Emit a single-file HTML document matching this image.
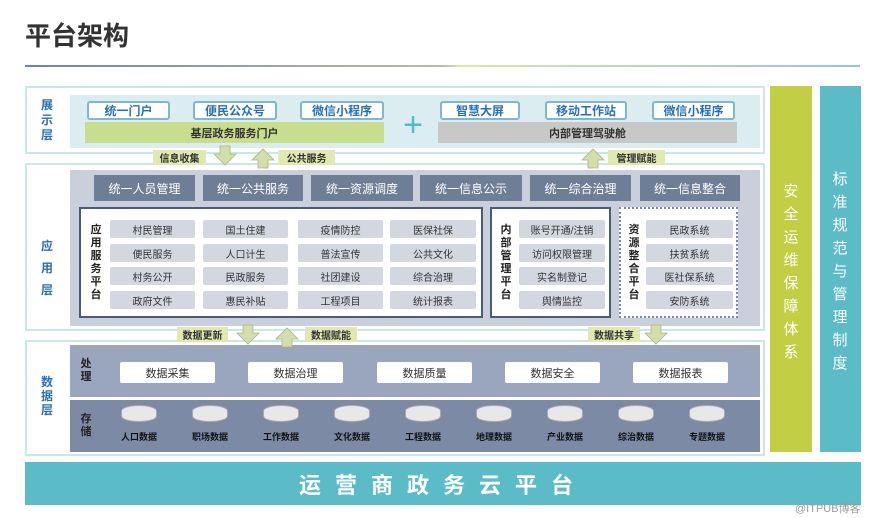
<!DOCTYPE html>
<html><head><meta charset="utf-8"><style>
*{margin:0;padding:0;box-sizing:border-box}
body{width:889px;height:518px;background:#fff;position:relative;overflow:hidden;font-family:"Liberation Sans","Noto Sans CJK SC",sans-serif}
div{position:absolute}
.c{display:flex;align-items:center;justify-content:center;text-align:center;white-space:nowrap}
.btn{background:#fff;border:2px solid #7fb7cf;border-radius:3px;color:#2a6fb5;font-weight:bold;font-size:12px;height:19px;top:101px}
.lab{color:#2a6fb5;font-weight:bold;font-size:12px;line-height:15px;width:14px;text-align:center}
.hd{background:#6e7e97;color:#fff;font-size:12px;top:175px;height:26px}
.it{background:#d3d8e0;color:#333;font-size:10px;height:18px;border-radius:2px}
.vl{font-weight:bold;font-size:11px;line-height:13px;width:12px;text-align:center;color:#222}
.tag{background:#dfe9b0;color:#333;font-size:10px;height:15px;font-weight:bold}
.pb{background:#fff;color:#333;font-size:11px;top:362px;height:21px;width:95px;border-radius:2px}
.cyl{width:36px;height:17px;top:405px;background:#e8e8e8;border:1px solid #aaa;border-radius:50%/35%}
.cl{top:430px;font-size:9px;color:#111;width:60px;font-weight:bold}
</style></head><body>
<div style="left:25px;top:16px;font-size:26px;font-weight:bold;color:#333">平台架构</div>
<div style="left:25px;top:65px;width:835px;height:2px;background:linear-gradient(90deg,#7480a8,#b9bda0 50%,#dfe6a0 52%,#8fc8d6)"></div>

<div style="left:25px;top:86px;width:740px;height:68px;border:2px solid #c8e6ec;background:#fff"></div>
<div style="left:70px;top:95px;width:690px;height:53px;background:#dcedf1"></div>
<div class="lab" style="left:40px;top:98px">展示层</div>
<div class="btn c" style="left:87px;width:83px">统一门户</div>
<div class="btn c" style="left:193px;width:84px">便民公众号</div>
<div class="btn c" style="left:300px;width:84px">微信小程序</div>
<div class="btn c" style="left:440px;width:80px">智慧大屏</div>
<div class="btn c" style="left:545px;width:82px">移动工作站</div>
<div class="btn c" style="left:652px;width:83px">微信小程序</div>
<div class="c" style="left:85px;top:122px;width:299px;height:21px;background:#c9dd8f;font-size:11px;color:#333;font-weight:bold">基层政务服务门户</div>
<div class="c" style="left:438px;top:122px;width:299px;height:21px;background:#c8c8c8;font-size:11px;color:#333;font-weight:bold">内部管理驾驶舱</div>
<div class="c" style="left:398px;top:110px;width:30px;height:30px;color:#56b9c6;font-size:34px;line-height:30px">+</div>

<div style="left:25px;top:163px;width:740px;height:168px;border:2px solid #c8e6ec;background:#fff"></div>
<div style="left:70px;top:170px;width:690px;height:156px;background:#c9d0dc"></div>
<div class="lab" style="left:40px;top:235px;line-height:22px">应用层</div>
<div class="hd c" style="left:94px;width:101px">统一人员管理</div>
<div class="hd c" style="left:203px;width:100px">统一公共服务</div>
<div class="hd c" style="left:311px;width:102px">统一资源调度</div>
<div class="hd c" style="left:420px;width:102px">统一信息公示</div>
<div class="hd c" style="left:530px;width:101px">统一综合治理</div>
<div class="hd c" style="left:640px;width:100px">统一信息整合</div>

<div style="left:79px;top:207px;width:404px;height:111px;background:#fff;border:2px solid #4a5a7a"></div>
<div class="vl" style="left:90px;top:224px">应用服务平台</div>
<div class="it c" style="left:110px;top:220px;width:85px">村民管理</div>
<div class="it c" style="left:203px;top:220px;width:85px">国土住建</div>
<div class="it c" style="left:298px;top:220px;width:85px">疫情防控</div>
<div class="it c" style="left:390px;top:220px;width:86px">医保社保</div>
<div class="it c" style="left:110px;top:244px;width:85px">便民服务</div>
<div class="it c" style="left:203px;top:244px;width:85px">人口计生</div>
<div class="it c" style="left:298px;top:244px;width:85px">普法宣传</div>
<div class="it c" style="left:390px;top:244px;width:86px">公共文化</div>
<div class="it c" style="left:110px;top:267px;width:85px">村务公开</div>
<div class="it c" style="left:203px;top:267px;width:85px">民政服务</div>
<div class="it c" style="left:298px;top:267px;width:85px">社团建设</div>
<div class="it c" style="left:390px;top:267px;width:86px">综合治理</div>
<div class="it c" style="left:110px;top:291px;width:85px">政府文件</div>
<div class="it c" style="left:203px;top:291px;width:85px">惠民补贴</div>
<div class="it c" style="left:298px;top:291px;width:85px">工程项目</div>
<div class="it c" style="left:390px;top:291px;width:86px">统计报表</div>

<div style="left:490px;top:207px;width:121px;height:111px;background:#fff;border:2px solid #4a5a7a"></div>
<div class="vl" style="left:500px;top:224px">内部管理平台</div>
<div class="it c" style="left:519px;top:220px;width:86px">账号开通/注销</div>
<div class="it c" style="left:519px;top:244px;width:86px">访问权限管理</div>
<div class="it c" style="left:519px;top:267px;width:86px">实名制登记</div>
<div class="it c" style="left:519px;top:291px;width:86px">舆情监控</div>

<div style="left:619px;top:207px;width:119px;height:111px;background:#fff;border:2px dotted #7a86b0"></div>
<div class="vl" style="left:628px;top:224px">资源整合平台</div>
<div class="it c" style="left:646px;top:220px;width:87px">民政系统</div>
<div class="it c" style="left:646px;top:244px;width:87px">扶贫系统</div>
<div class="it c" style="left:646px;top:267px;width:87px">医社保系统</div>
<div class="it c" style="left:646px;top:291px;width:87px">安防系统</div>

<div style="left:25px;top:340px;width:740px;height:116px;border:2px solid #c8e6ec;background:#fff"></div>
<div style="left:70px;top:345px;width:690px;height:52px;background:#9aa6bd"></div>
<div style="left:70px;top:400px;width:690px;height:52px;background:#7d8aa5"></div>
<div class="lab" style="left:40px;top:375px;line-height:14px">数据层</div>
<div class="vl" style="left:80px;top:358px">处理</div>
<div class="vl" style="left:80px;top:413px">存储</div>
<div class="pb c" style="left:120px">数据采集</div>
<div class="pb c" style="left:248px">数据治理</div>
<div class="pb c" style="left:377px">数据质量</div>
<div class="pb c" style="left:505px">数据安全</div>
<div class="pb c" style="left:633px">数据报表</div>
<div class="cyl" style="left:121px"></div><div class="cl c" style="left:109px">人口数据</div>
<div class="cyl" style="left:192px"></div><div class="cl c" style="left:180px">职场数据</div>
<div class="cyl" style="left:263px"></div><div class="cl c" style="left:251px">工作数据</div>
<div class="cyl" style="left:334px"></div><div class="cl c" style="left:322px">文化数据</div>
<div class="cyl" style="left:405px"></div><div class="cl c" style="left:393px">工程数据</div>
<div class="cyl" style="left:476px"></div><div class="cl c" style="left:464px">地理数据</div>
<div class="cyl" style="left:547px"></div><div class="cl c" style="left:535px">产业数据</div>
<div class="cyl" style="left:618px"></div><div class="cl c" style="left:606px">综治数据</div>
<div class="cyl" style="left:689px"></div><div class="cl c" style="left:677px">专题数据</div>

<div class="tag c" style="left:153px;top:150px;width:53px">信息收集</div>
<div class="tag c" style="left:278px;top:150px;width:57px">公共服务</div>
<div class="tag c" style="left:608px;top:150px;width:57px">管理赋能</div>
<div class="tag c" style="left:177px;top:327px;width:51px">数据更新</div>
<div class="tag c" style="left:305px;top:327px;width:52px">数据赋能</div>
<div class="tag c" style="left:588px;top:327px;width:52px">数据共享</div>

<div style="left:770px;top:86px;width:42px;height:366px;background:#c2cf44"></div>
<div style="left:782px;top:180px;width:18px;color:#fff;font-size:15px;line-height:23px;text-align:center">安全运维保障体系</div>
<div style="left:820px;top:86px;width:41px;height:366px;background:#5bbcc8"></div>
<div style="left:831px;top:168px;width:18px;color:#fff;font-size:15px;line-height:23px;text-align:center">标准规范与管理制度</div>

<div class="c" style="left:25px;top:462px;width:836px;height:43px;background:#5bbcc8;color:#fff;font-size:22px;font-weight:bold;letter-spacing:14px">运营商政务云平台</div>
<div style="left:795px;top:500px;font-size:11px;color:#999">@ITPUB博客</div>

<svg style="position:absolute;left:0;top:0" width="889" height="518">
<g fill="#d4dea8" stroke="#a9b38a" stroke-width="0.8">
<path d="M220 146h10v8h6l-11 11-11-11h6z"/>
<path d="M258 168h10v-8h6l-11-11-11 11h6z"/>
<path d="M588 168h10v-8h6l-11-11-11 11h6z"/>
<path d="M243 325h10v8h6l-11 11-11-11h6z"/>
<path d="M282 347h10v-8h6l-11-11-11 11h6z"/>
<path d="M651 325h10v8h6l-11 11-11-11h6z"/>
</g></svg>
</body></html>
